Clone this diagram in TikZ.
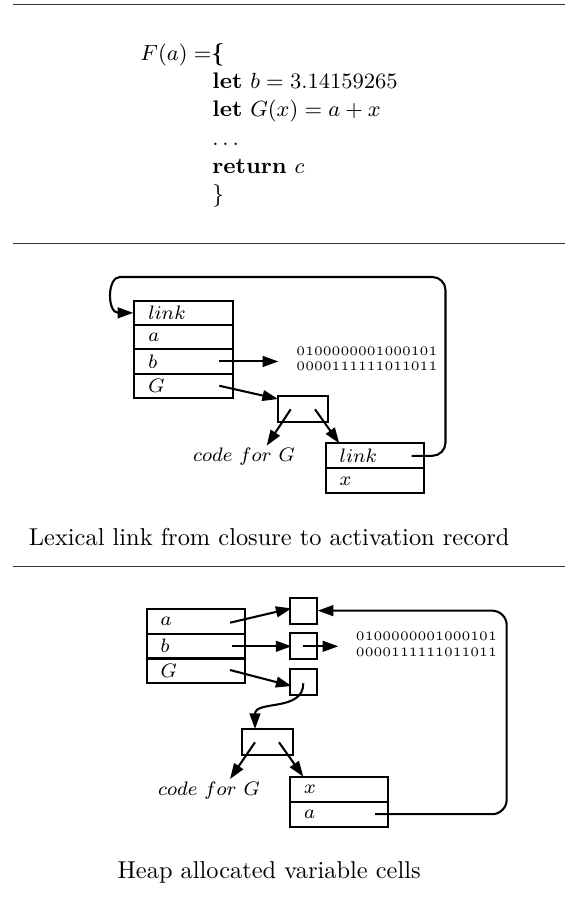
\documentclass[tikz,border=0pt]{standalone}
\usetikzlibrary{arrows.meta}
\newcommand\labf{\fontsize{8.2}{9.5}\selectfont}
\newcommand\bitsf{\fontsize{5.3}{6.3}\selectfont}
\newcommand\codef{\fontsize{9.25}{11}\selectfont}
\newcommand\capf{\fontsize{10}{12}\selectfont}
\tikzset{
  pu/.style={x=0.41pt,y=-0.41pt},
  rulebar/.style={line width=0.45pt, black!80},
  arr/.style={-{Triangle[length=6.4pt,width=4.4pt]}, line width=0.85pt},
  rowbox/.style={draw, line width=0.85pt, inner sep=0pt, inner xsep=5.74pt,
     text width={(#1-28)*0.41pt}, align=left, minimum height=24.4*0.41pt, font=\labf},
  cellbox/.style={draw, line width=0.85pt, inner sep=0pt, minimum width=26.7*0.41pt, minimum height=26*0.41pt},
  clbox/.style={draw, line width=0.85pt, inner sep=0pt, minimum width=50.8*0.41pt, minimum height=25.8*0.41pt},
  codetxt/.style={anchor=base west, inner sep=0pt, font=\codef},
  bitstxt/.style={anchor=base west, inner sep=0pt, align=left, font=\bitsf},
  labtxt/.style={anchor=base, inner sep=0pt, font=\labf},
  captxt/.style={anchor=base, inner sep=0pt, font=\capf},
}
\begin{document}
\begin{tikzpicture}[pu]
\useasboundingbox (0,0) rectangle (565,898);

% rules
\draw[rulebar] (13,4.5) -- (565,4.5);
\draw[rulebar] (13,243.5) -- (565,243.5);
\draw[rulebar] (13,566.5) -- (565,566.5);

% code
\node[codetxt] (cF) at (140,60) {$F(a) =$\textbf{\{}};
\node[codetxt] (c1) at (212,88.3) {\textbf{let} $b = 3.14159265$};
\node[codetxt] (c2) at (212,116.6) {\textbf{let} $G(x) = a + x$};
\node[codetxt] (c3) at (212,145) {$\ldots$};
\node[codetxt] (c4) at (212,173.5) {\textbf{return} $c$};
\node[codetxt] (c5) at (212,201.5) {\}};

% ---------- section 2 ----------
\node[rowbox=98.4, minimum height=24.3*0.41pt] (r1l) at (183.5,312.85) {$link$};
\node[rowbox=98.4, minimum height=24.3*0.41pt] (r1a) at (183.5,337.15) {$a$};
\node[rowbox=98.4, minimum height=24.3*0.41pt] (r1b) at (183.5,361.45) {$b$};
\node[rowbox=98.4, minimum height=24.3*0.41pt] (r1g) at (183.5,385.75) {$G$};

\node[clbox] (cl1) at (303,408.85) {};

\node[rowbox=98.3, minimum height=25*0.41pt] (r2l) at (374.85,455.8) {$link$};
\node[rowbox=98.3, minimum height=25*0.41pt] (r2x) at (374.85,480.8) {$x$};

\node[bitstxt] (bits1) at (296,370.7) {0100000001000101\\0000111111011011};
\node[labtxt] (cf1) at (244,461.7) {$code\ for\ G$};

\coordinate (bS) at (219.3,361.45);
\coordinate (bE) at (278.3,361.45);
\coordinate (gS) at (219.3,385.75);
\coordinate (gE) at (278,399);
\coordinate (cl1L) at (290.7,409.3);
\coordinate (cl1LE) at (266.7,445.7);
\coordinate (cl1R) at (315,409.3);
\coordinate (cl1RE) at (339.3,443.3);
\coordinate (lkS) at (411.7,455.8);

\draw[arr] (bS) -- (bE);
\draw[arr] (gS) -- (gE);
\draw[arr] (cl1L) -- (cl1LE);
\draw[arr] (cl1R) -- (cl1RE);
\draw[arr, rounded corners=5.4pt] (lkS) -- (445.5,455.8) -- (445.5,277) -- (133,277)
   [sharp corners] .. controls (107,277) and (107,312.85) .. (r1l.west);

% ---------- section 3 ----------
\node[rowbox=98.3] (r3a) at (195.85,621.6) {$a$};
\node[rowbox=98.3] (r3b) at (195.85,646.2) {$b$};
\node[rowbox=98.3] (r3g) at (195.85,670.8) {$G$};

\node[cellbox] (ce1) at (303.35,610.65) {};
\node[cellbox] (ce2) at (303.35,646.3) {};
\node[cellbox] (ce3) at (303.35,682.15) {};

\node[clbox] (cl2) at (267.2,742) {};

\node[rowbox=97.7, minimum height=25*0.41pt] (r4x) at (338.85,789.2) {$x$};
\node[rowbox=97.7, minimum height=25*0.41pt] (r4a) at (338.85,814.2) {$a$};

\node[bitstxt] (bits2) at (355.5,656) {0100000001000101\\0000111111011011};
\node[labtxt] (cf2) at (209,795.5) {$code\ for\ G$};

\coordinate (aS3) at (230,622.7);
\coordinate (aE3) at (291.5,608.3);
\coordinate (bS3) at (231.7,646.3);
\coordinate (bE3) at (291.5,646.3);
\coordinate (gS3) at (230,670);
\coordinate (gE3) at (291.5,686);
\coordinate (c2S) at (303.3,646.3);
\coordinate (c2E) at (338.3,646.3);
\coordinate (c3S) at (303.3,683.3);
\coordinate (c3E) at (255,729);
\coordinate (cl2L) at (255,742.3);
\coordinate (cl2LE) at (230,779);
\coordinate (cl2R) at (279,742.3);
\coordinate (cl2RE) at (303.3,776.7);
\coordinate (a4S) at (375,814.2);

\draw[arr] (aS3) -- (aE3);
\draw[arr] (bS3) -- (bE3);
\draw[arr] (gS3) -- (gE3);
\draw[arr] (c2S) -- (c2E);
\draw[arr] (c3S) .. controls (303.3,712) and (255,700) .. (c3E);
\draw[arr] (cl2L) -- (cl2LE);
\draw[arr] (cl2R) -- (cl2RE);
\draw[arr, rounded corners=6pt] (a4S) -- (506.7,814.2) -- (506.7,610.65) -- (ce1.east);

% captions
\node[captxt] (cap2) at (269.2,545) {Lexical link from closure to activation record};
\node[captxt] (cap3) at (269.2,878.3) {Heap allocated variable cells};
\end{tikzpicture}
\end{document}
